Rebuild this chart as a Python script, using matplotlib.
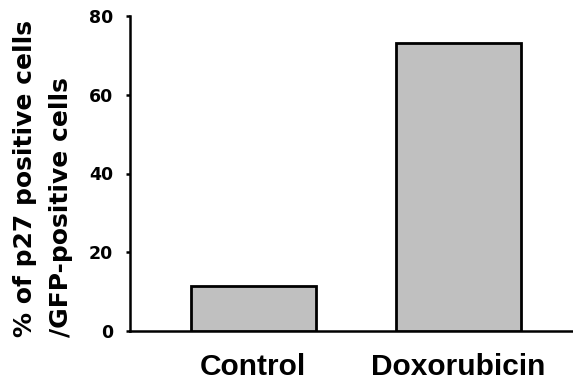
import matplotlib
matplotlib.use("Agg")
import matplotlib.pyplot as plt

categories = ["Control", "Doxorubicin"]
values = [11.4, 73.1]
yticks = [0, 20, 40, 60, 80]

fig = plt.figure(figsize=(5.73, 3.87), dpi=100)
ax = fig.add_axes([130 / 573, 1 - 331 / 387, (573 - 130) / 573, (331 - 16) / 387])

x = range(len(categories))
ax.bar(x, values, width=0.61, color="#c0c0c0", edgecolor="black", linewidth=2.0, zorder=3)

ax.set_xlim(-0.6, 1.56)
ax.set_ylim(0, 80)
ax.set_yticks(yticks)
ax.set_yticklabels([str(t) for t in yticks], fontfamily="DejaVu Sans",
                   fontweight="bold", fontsize=12.5)
ax.set_xticks(list(x))
ax.set_xticklabels(categories, fontfamily="Liberation Sans", fontweight="bold", fontsize=21.5)

for side in ("top", "right"):
    ax.spines[side].set_visible(False)
for side in ("left", "bottom"):
    ax.spines[side].set_linewidth(1.8)

ax.tick_params(axis="y", direction="out", length=3, width=1.8, pad=9)
ax.tick_params(axis="x", length=0, pad=16)

fig.text(43 / 573, 1 - 178.5 / 387, "% of p27 positive cells\n/GFP-positive cells",
         rotation=90, ha="center", va="center", multialignment="left",
         fontfamily="DejaVu Sans", fontweight="bold", fontsize=18, linespacing=1.6)

fig.savefig("out.png", dpi=100)
